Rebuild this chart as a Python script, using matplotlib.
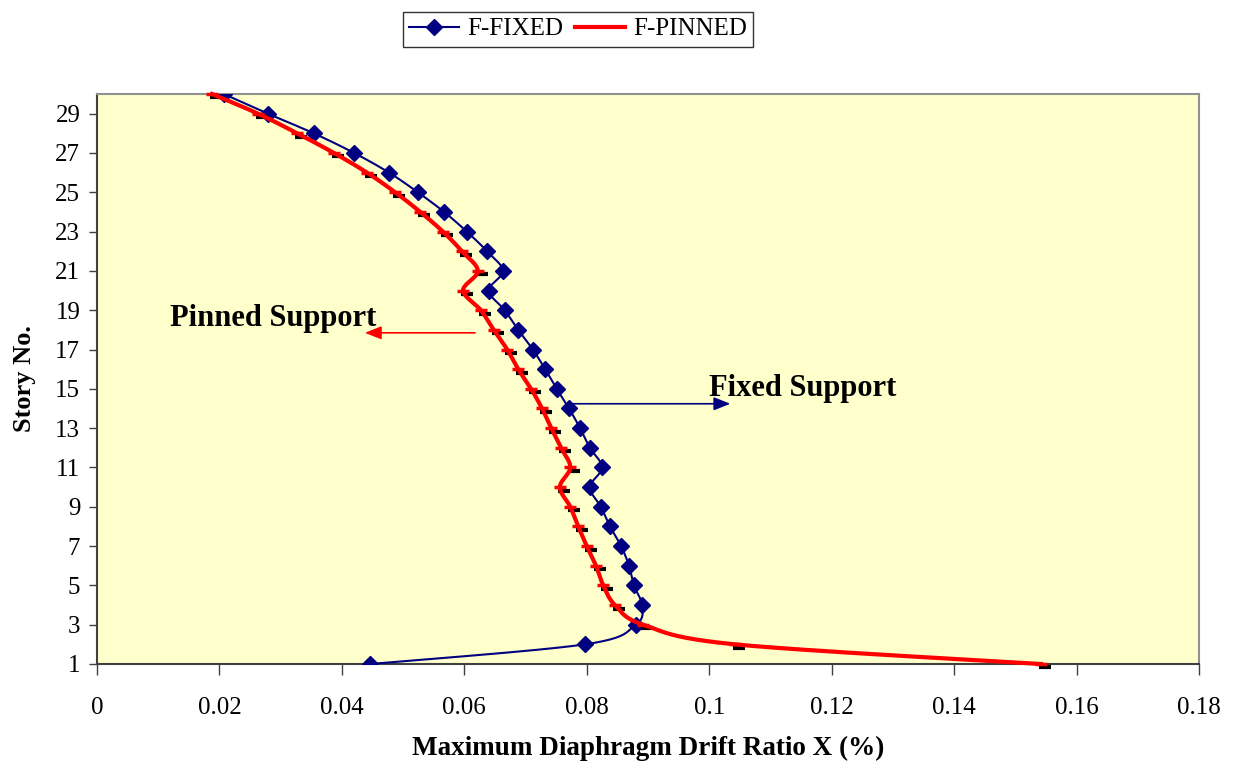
import numpy as np
import matplotlib
matplotlib.use("Agg")
import matplotlib.pyplot as plt
from matplotlib import transforms

plt.rcParams['font.family'] = ['Liberation Serif', 'DejaVu Serif']

# Story numbers and maximum diaphragm drift ratios (%)
stories = list(range(30, 0, -1))
fixed = [0.0207, 0.0279, 0.0354, 0.0420, 0.0477, 0.0524, 0.0567, 0.0604, 0.0637, 0.0663,
         0.0640, 0.0666, 0.0688, 0.0712, 0.0732, 0.0751, 0.0771, 0.0789, 0.0805, 0.0825,
         0.0805, 0.0823, 0.0838, 0.0856, 0.0869, 0.0877, 0.0890, 0.0880, 0.0797, 0.0446]
pinned = [0.0188, 0.0263, 0.0327, 0.0387, 0.0441, 0.0487, 0.0528, 0.0565, 0.0596, 0.0622,
          0.0598, 0.0627, 0.0648, 0.0670, 0.0688, 0.0709, 0.0727, 0.0742, 0.0758, 0.0773,
          0.0756, 0.0773, 0.0786, 0.0800, 0.0815, 0.0827, 0.0846, 0.0892, 0.1042, 0.1542]

x_ticks = [0, 0.02, 0.04, 0.06, 0.08, 0.1, 0.12, 0.14, 0.16, 0.18]
x_tick_labels = ["0", "0.02", "0.04", "0.06", "0.08", "0.1", "0.12", "0.14", "0.16", "0.18"]
y_ticks = list(range(1, 30, 2))

NAVY = "#000080"
RED = "#FF0000"

fig = plt.figure(figsize=(12.36, 7.63), dpi=100)
ax = fig.add_axes([97 / 1236, 1 - 664 / 763, 1102 / 1236, 570 / 763])
ax.set_facecolor("#FFFFCC")
ax.set_xlim(0, 0.18)
ax.set_ylim(1, 30)


def smooth(xs, ys, n=24):
    """Excel-style smoothed curve (Catmull-Rom) computed in display space."""
    pts = ax.transData.transform(np.column_stack([xs, ys]))
    p = np.vstack([pts[0], pts, pts[-1]])
    out = []
    t = np.linspace(0, 1, n, endpoint=False)[:, None]
    for i in range(1, len(p) - 2):
        p0, p1, p2, p3 = p[i - 1], p[i], p[i + 1], p[i + 2]
        c1 = p1 + (p2 - p0) / 6
        c2 = p2 - (p3 - p1) / 6
        seg = ((1 - t) ** 3) * p1 + 3 * ((1 - t) ** 2) * t * c1 + 3 * (1 - t) * t ** 2 * c2 + t ** 3 * p2
        out.append(seg)
    out.append(p[-2][None, :])
    out = np.vstack(out)
    d = ax.transData.inverted().transform(out)
    return d[:, 0], d[:, 1]


# F-FIXED: smoothed line with diamond markers
fx, fy = smooth(fixed, stories)
ax.plot(fx, fy, color=NAVY, lw=1.5, zorder=3)
ax.plot(fixed, stories, ls="none", marker="D", ms=8.5, color=NAVY, zorder=3.2)

# F-PINNED: smoothed line with dash markers and their dark shadows
shadow = transforms.offset_copy(ax.transData, fig=fig, x=4, y=-3.5, units="dots")
ax.plot(pinned, stories, ls="none", marker="_", ms=9, mew=3, color="black",
        transform=shadow, zorder=3.4, clip_on=False)
px, py = smooth(pinned, stories)
ax.plot(px, py, color=RED, lw=3, zorder=3.6, clip_on=False)
ax.plot(pinned, stories, ls="none", marker="_", ms=9, mew=2.5, color=RED, zorder=3.7, clip_on=False)

# Legend proxies
h_fixed, = ax.plot([], [], color=NAVY, lw=1.5, marker="D", ms=8.5)
h_pinned, = ax.plot([], [], color=RED, lw=3)
leg = fig.legend([h_fixed, h_pinned], ["F-FIXED", "F-PINNED"], loc="center",
                 bbox_to_anchor=(578 / 1236, 1 - 29 / 763), ncol=2, fontsize=18,
                 frameon=True, fancybox=False, edgecolor="black", handlelength=2.0,
                 handletextpad=0.3, columnspacing=0.5, borderpad=0.25, borderaxespad=0)
leg.get_frame().set_linewidth(1.0)

# Annotations
ax.annotate("", xy=(0.0433, 17.85), xytext=(0.0622, 17.85),
            arrowprops=dict(arrowstyle="-|>,head_length=1.0,head_width=0.4", color=RED, lw=1.2))
ax.text(0.0288, 18.57, "Pinned Support", fontsize=22, fontweight="bold", ha="center", va="center")
ax.annotate("", xy=(0.1039, 14.24), xytext=(0.0773, 14.24),
            arrowprops=dict(arrowstyle="-|>,head_length=1.0,head_width=0.4", color=NAVY, lw=1.2))
ax.text(0.1152, 15.0, "Fixed Support", fontsize=22, fontweight="bold", ha="center", va="center")

# Axes styling
ax.set_xticks(x_ticks)
ax.set_xticklabels(x_tick_labels)
ax.set_yticks(y_ticks)
ax.tick_params(axis="x", direction="out", length=8, width=1, pad=16, labelsize=18, color="#404040")
ax.tick_params(axis="y", direction="out", length=6, width=1, pad=6, labelsize=18, color="#404040")
for side in ("top", "right"):
    ax.spines[side].set_color("#909090")
    ax.spines[side].set_linewidth(1.5)
for side in ("left", "bottom"):
    ax.spines[side].set_color("#404040")
    ax.spines[side].set_linewidth(1.5)

ax.set_xlabel("Maximum Diaphragm Drift Ratio X (%)", fontsize=19.5, fontweight="bold", labelpad=12)
ax.set_ylabel("Story No.", fontsize=19, fontweight="bold", labelpad=14)

fig.savefig("out.png", dpi=100, facecolor="white")
